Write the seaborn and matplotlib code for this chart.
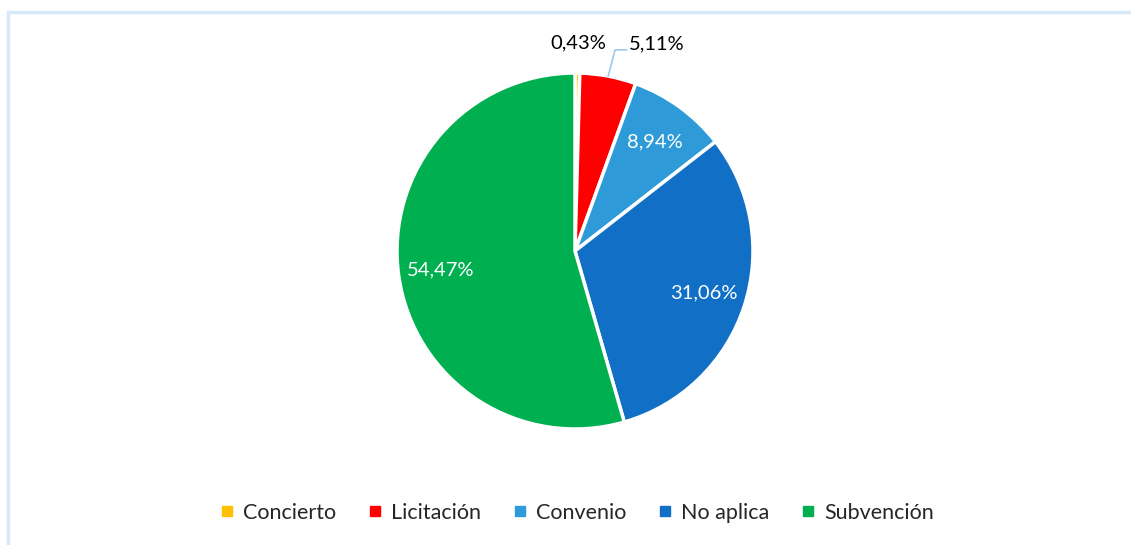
import numpy as np
import matplotlib
matplotlib.use("Agg")
import matplotlib.pyplot as plt
from matplotlib.lines import Line2D
import seaborn as sns

categories = ['Concierto', 'Licitación', 'Convenio', 'No aplica', 'Subvención']
shares = [0.43, 5.11, 8.94, 31.06, 54.47]
colors = ['#FFC000', '#FF0000', '#2E9BD8', '#1170C6', '#00B050']

sns.set_theme(style='white')
plt.rcParams['font.family'] = ['Lato', 'DejaVu Sans']

W, H = 1131, 545
fig = plt.figure(figsize=(W / 100, H / 100), dpi=100)

# light frame of the chart area
fig.add_artist(Line2D([8 / W, 8 / W], [0, 1 - 12 / H], color='#D6E9F8', lw=2.5))
fig.add_artist(Line2D([8 / W, 1], [1 - 12 / H, 1 - 12 / H], color='#D6E9F8', lw=2.5))

cx, cy, r = 575, 251, 178
half = 200
ax = fig.add_axes([(cx - half) / W, (H - cy - half) / H, 2 * half / W, 2 * half / H])
lim = half / r

wedges, _ = ax.pie(shares, colors=sns.color_palette(colors), startangle=90, counterclock=False,
                   radius=1, wedgeprops=dict(edgecolor='white', linewidth=2.5))
ax.set_xlim(-lim, lim)
ax.set_ylim(-lim, lim)
ax.set_aspect('equal')
ax.axis('off')


def fmt(v):
    return f"{v:.2f}%".replace('.', ',')


for w, v in zip(wedges, shares):
    mid = np.deg2rad((w.theta1 + w.theta2) / 2)
    if v > 8:
        d = 0.76
        ax.text(d * np.cos(mid), d * np.sin(mid), fmt(v), color='white', fontsize=14.5,
                ha='center', va='center')

# small slices labelled outside
m0 = np.deg2rad((wedges[0].theta1 + wedges[0].theta2) / 2)
ax.text(1.17 * np.cos(m0), 1.17 * np.sin(m0), fmt(shares[0]), color='black', fontsize=14.5,
        ha='center', va='center')

m1 = np.deg2rad((wedges[1].theta1 + wedges[1].theta2) / 2)
p0 = (np.cos(m1), np.sin(m1))
ax.plot([p0[0], 0.225, 0.29], [p0[1], 1.13, 1.13], color='#9DC9EC', lw=1.2, clip_on=False)
ax.text(0.30, 1.165, fmt(shares[1]), color='black', fontsize=14.5, ha='left', va='center')

handles = [plt.Line2D([], [], marker='s', ls='', markersize=7, color=c) for c in colors]
fig.legend(handles, categories, loc='center', bbox_to_anchor=(577 / W, 1 - 513 / H), ncol=5,
           frameon=False, fontsize=15.5, handlelength=0.6, handletextpad=0.45, columnspacing=1.5)

fig.savefig('out.png', dpi=100)
